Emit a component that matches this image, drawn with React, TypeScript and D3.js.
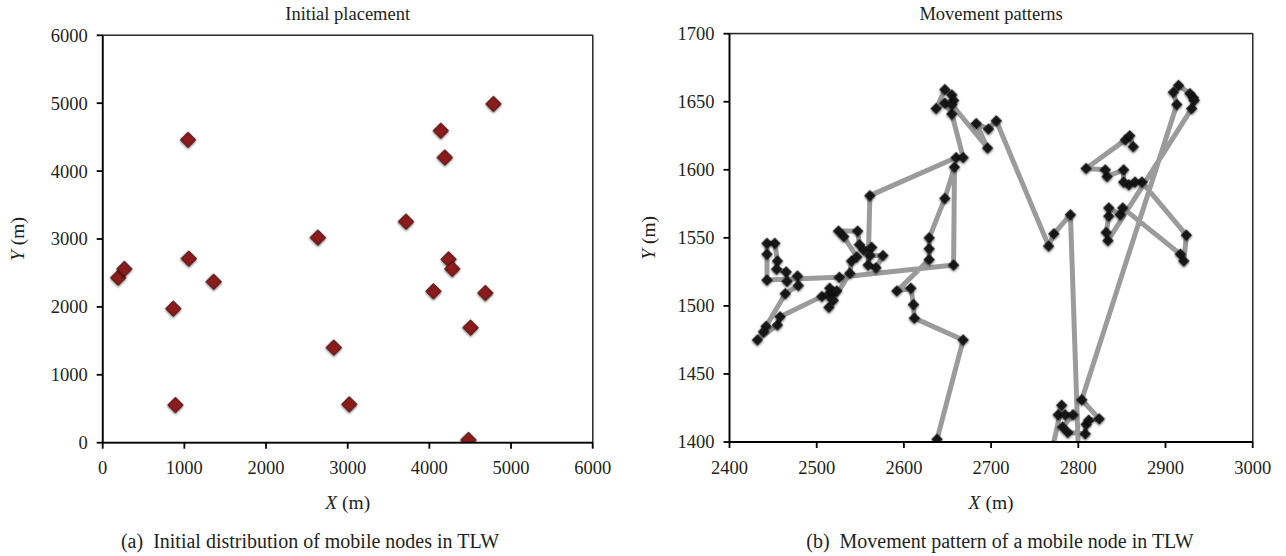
import React from "react";
import * as d3 from "d3";

// ---------- Data ----------
// (a) Initial placement of mobile nodes
const placementX = [190, 265, 865, 890, 1045, 1055, 1360, 2635, 2830, 3020, 3715, 4050, 4140, 4190, 4235, 4280, 4480, 4505, 4685, 4785];
const placementY = [2430, 2560, 1975, 555, 4460, 2710, 2370, 3020, 1400, 565, 3255, 2230, 4595, 4200, 2700, 2560, 40, 1695, 2205, 4990];

// (b) Movement pattern of one node (visit order)
const pathX = [
  2636, 2638, 2668, 2612, 2611, 2608, 2592, 2629, 2629, 2629, 2647, 2658, 2657, 2526, 2443, 2443, 2443, 2452, 2455, 2454,
  2465, 2466, 2478, 2479, 2464, 2442, 2439, 2432, 2455, 2458, 2506, 2513, 2515, 2519, 2523, 2519, 2514, 2538, 2540, 2546,
  2531, 2525, 2547, 2549, 2554, 2563, 2561, 2576, 2568, 2559, 2561, 2660, 2668, 2655, 2647, 2637, 2647, 2655, 2657, 2655,
  2696, 2683, 2697, 2706, 2766, 2772, 2791, 2800, 2771, 2781, 2777, 2785, 2794, 2782, 2788, 2808, 2809, 2812, 2824, 2804,
  2913, 2909, 2915, 2928, 2932, 2933, 2930, 2834, 2832, 2835, 2835, 2848, 2851, 2917, 2921, 2924, 2873, 2865, 2858, 2852,
  2852, 2833, 2831, 2809, 2854, 2859, 2863,
];
const pathY = [
  1396, 1402, 1475, 1491, 1501, 1513, 1511, 1534, 1542, 1550, 1579, 1602, 1530, 1521, 1519, 1538, 1546, 1546, 1533, 1527,
  1525, 1518, 1522, 1515, 1509, 1485, 1481, 1475, 1486, 1492, 1507, 1508, 1513, 1510, 1511, 1504, 1499, 1524, 1533, 1536,
  1551, 1555, 1555, 1545, 1541, 1543, 1537, 1537, 1528, 1530, 1581, 1609, 1609, 1641, 1649, 1645, 1659, 1655, 1651, 1648,
  1616, 1634, 1630, 1636, 1544, 1553, 1567, 1395, 1397, 1427, 1420, 1420, 1420, 1411, 1407, 1406, 1413, 1416, 1417, 1431,
  1648, 1657, 1662, 1656, 1653, 1651, 1645, 1548, 1554, 1566, 1572, 1567, 1572, 1538, 1533, 1552, 1591, 1591, 1589, 1591,
  1600, 1595, 1600, 1601, 1622, 1625, 1617,
];

// Axis ticks
const ticksA_X = [0, 1000, 2000, 3000, 4000, 5000, 6000];
const ticksA_Y = [0, 1000, 2000, 3000, 4000, 5000, 6000];
const ticksB_X = [2400, 2500, 2600, 2700, 2800, 2900, 3000];
const ticksB_Y = [1400, 1450, 1500, 1550, 1600, 1650, 1700];

const titles = ["Initial placement", "Movement patterns"];
const captions = ["(a)\u00a0\u00a0Initial distribution of mobile nodes in TLW", "(b)\u00a0\u00a0Movement pattern of a mobile node in TLW"];

const FONT = "'Liberation Serif', 'DejaVu Serif', serif";

type PanelProps = {
  x0: number; x1: number; y0: number; y1: number;
  xDomain: [number, number]; yDomain: [number, number];
  xTicks: number[]; yTicks: number[];
  title: string; caption: string; captionX: number;
  yLabelX: number; clipId: string;
  children: (sx: d3.ScaleLinear<number, number>, sy: d3.ScaleLinear<number, number>) => React.ReactNode;
};

function Panel(p: PanelProps) {
  const sx = d3.scaleLinear().domain(p.xDomain).range([p.x0, p.x1]);
  const sy = d3.scaleLinear().domain(p.yDomain).range([p.y1, p.y0]);
  const cx = (p.x0 + p.x1) / 2;
  const cy = (p.y0 + p.y1) / 2;
  return (
    <g fontFamily={FONT} fill="#231f20">
      <defs>
        <clipPath id={p.clipId}>
          <rect x={p.x0} y={p.y0} width={p.x1 - p.x0} height={p.y1 - p.y0} />
        </clipPath>
      </defs>
      <text x={cx} y={20} textAnchor="middle" fontSize={18.5}>{p.title}</text>
      <g clipPath={`url(#${p.clipId})`}>{p.children(sx, sy)}</g>
      {/* frame */}
      <line x1={p.x0} x2={p.x1} y1={p.y0 - 1} y2={p.y0 - 1} stroke="#c8c8c8" strokeWidth={1} />
      <line x1={p.x1 + 1} x2={p.x1 + 1} y1={p.y0} y2={p.y1} stroke="#c8c8c8" strokeWidth={1} />
      <rect x={p.x0} y={p.y0} width={p.x1 - p.x0} height={p.y1 - p.y0} fill="none" stroke="#222" strokeWidth={1.3} />
      <line x1={p.x0} x2={p.x1} y1={p.y1} y2={p.y1} stroke="#000" strokeWidth={1.8} />
      <line x1={p.x0} x2={p.x0} y1={p.y0} y2={p.y1} stroke="#000" strokeWidth={1.8} />
      {p.xTicks.map((t) => (
        <g key={"xt" + t}>
          <line x1={sx(t)} x2={sx(t)} y1={p.y1} y2={p.y1 + 6} stroke="#000" strokeWidth={1.8} />
          <text x={sx(t)} y={474} textAnchor="middle" fontSize={18.5}>{t}</text>
        </g>
      ))}
      {p.yTicks.map((t) => (
        <g key={"yt" + t}>
          <line x1={p.x0 - 6} x2={p.x0} y1={sy(t)} y2={sy(t)} stroke="#000" strokeWidth={1.8} />
          <text x={p.x0 - 15} y={sy(t)} dy="0.35em" textAnchor="end" fontSize={18.5}>{t}</text>
        </g>
      ))}
      <text x={cx} y={509} textAnchor="middle" fontSize={19.5}>
        <tspan fontStyle="italic">X</tspan> (m)
      </text>
      <text transform={`translate(${p.yLabelX},${cy}) rotate(-90)`} textAnchor="middle" fontSize={19.5}>
        <tspan fontStyle="italic">Y</tspan> (m)
      </text>
      <text x={p.captionX} y={548} textAnchor="middle" fontSize={20}>{p.caption}</text>
    </g>
  );
}

export default function App() {
  const bigDiamond = d3.symbol().type(d3.symbolSquare).size(118)() as string;
  const smallDiamond = d3.symbol().type(d3.symbolSquare).size(56)() as string;
  const pts = pathX.map((x, i) => [x, pathY[i]] as [number, number]);
  const placements = placementX.map((x, i) => [x, placementY[i]] as [number, number]);

  return (
    <svg width={1286} height={556} style={{ position: "absolute", left: 0, top: 0, background: "#fff" }}>
      <defs>
        <filter id="soft" x="-50%" y="-50%" width="200%" height="200%">
          <feGaussianBlur in="SourceAlpha" stdDeviation="1" result="b" />
          <feOffset in="b" dx="0.5" dy="0.8" result="o" />
          <feComponentTransfer in="o" result="s"><feFuncA type="linear" slope="0.5" /></feComponentTransfer>
          <feMerge><feMergeNode in="s" /><feMergeNode in="SourceGraphic" /></feMerge>
        </filter>
      </defs>
      <Panel
        x0={102.7} x1={592.7} y0={35.3} y1={442.7}
        xDomain={[0, 6000]} yDomain={[0, 6000]}
        xTicks={ticksA_X} yTicks={ticksA_Y}
        title={titles[0]} caption={captions[0]} captionX={310}
        yLabelX={24} clipId="clipA"
      >
        {(sx, sy) =>
          placements.map(([x, y], i) => (
            <path key={i} d={bigDiamond}
              transform={`translate(${sx(x)},${sy(y)}) rotate(45)`}
              fill="#8b1a1a" stroke="#3a0a0a" strokeWidth={0.8} filter="url(#soft)" />
          ))
        }
      </Panel>
      <Panel
        x0={729.5} x1={1252.7} y0={33.7} y1={442}
        xDomain={[2400, 3000]} yDomain={[1400, 1700]}
        xTicks={ticksB_X} yTicks={ticksB_Y}
        title={titles[1]} caption={captions[1]} captionX={1000}
        yLabelX={655} clipId="clipB"
      >
        {(sx, sy) => {
          const line = d3.line<[number, number]>().x((d) => sx(d[0])).y((d) => sy(d[1]));
          return (
            <g>
              <path d={line(pts) as string} fill="none" stroke="#9b9b9b" strokeWidth={5} strokeLinejoin="round" strokeLinecap="round" />
              {pts.map(([x, y], i) => (
                <path key={i} d={smallDiamond}
                  transform={`translate(${sx(x)},${sy(y)}) rotate(45)`}
                  fill="#141414" stroke="#000" strokeWidth={0.6} filter="url(#soft)" />
              ))}
            </g>
          );
        }}
      </Panel>
    </svg>
  );
}
